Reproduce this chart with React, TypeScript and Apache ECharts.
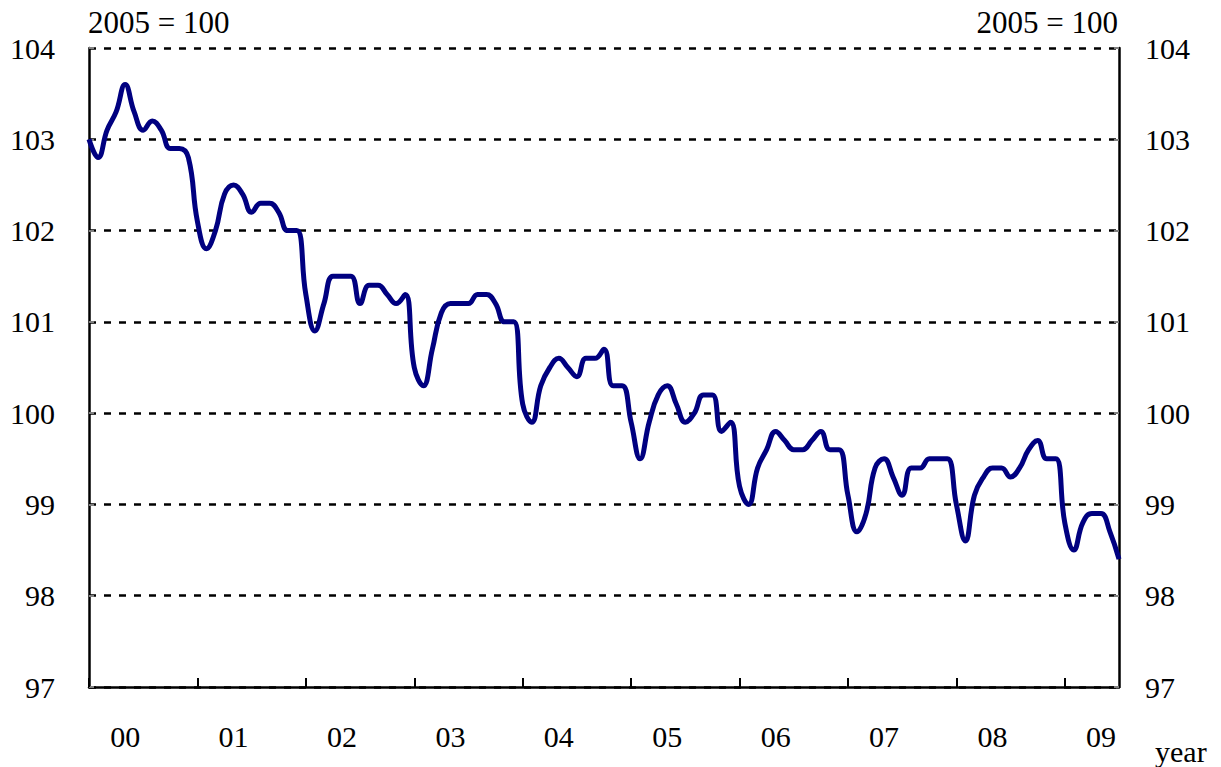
import React, { useEffect, useRef } from 'react';
import * as echarts from 'echarts';

const years = ['2000', '2001', '2002', '2003', '2004', '2005', '2006', '2007', '2008', '2009'];
const yearLabels = ['00', '01', '02', '03', '04', '05', '06', '07', '08', '09'];
const months = ['01', '02', '03', '04', '05', '06', '07', '08', '09', '10', '11', '12'];

// Monthly index values, Jan 2000 .. Jul 2009 (2005 = 100)
const values = [
  103.0, 102.8, 103.1, 103.3, 103.6, 103.3, 103.1, 103.2, 103.1, 102.9, 102.9, 102.8,
  102.1, 101.8, 102.0, 102.4, 102.5, 102.4, 102.2, 102.3, 102.3, 102.2, 102.0, 102.0,
  101.3, 100.9, 101.2, 101.5, 101.5, 101.5, 101.2, 101.4, 101.4, 101.3, 101.2, 101.3,
  100.5, 100.3, 100.7, 101.1, 101.2, 101.2, 101.2, 101.3, 101.3, 101.2, 101.0, 101.0,
  100.1, 99.9, 100.3, 100.5, 100.6, 100.5, 100.4, 100.6, 100.6, 100.7, 100.3, 100.3,
  99.9, 99.5, 99.9, 100.2, 100.3, 100.1, 99.9, 100.0, 100.2, 100.2, 99.8, 99.9,
  99.2, 99.0, 99.4, 99.6, 99.8, 99.7, 99.6, 99.6, 99.7, 99.8, 99.6, 99.6,
  99.1, 98.7, 98.9, 99.4, 99.5, 99.3, 99.1, 99.4, 99.4, 99.5, 99.5, 99.5,
  99.0, 98.6, 99.1, 99.3, 99.4, 99.4, 99.3, 99.4, 99.6, 99.7, 99.5, 99.5,
  98.8, 98.5, 98.8, 98.9, 98.9, 98.7, 98.4,
];

const yMin = 97;
const yMax = 104;
const yStep = 1;
const baseLabel = '2005 = 100';
const xUnitLabel = 'year';

const categories = years.flatMap((y) => months.map((m) => `${y}-${m}`)).slice(0, values.length);

const FONT = "'Liberation Serif', 'Times New Roman', serif";

export default function App() {
  const ref = useRef<HTMLDivElement>(null);

  useEffect(() => {
    if (!ref.current) return;
    const chart = echarts.init(ref.current, undefined, { renderer: 'svg' });
    const textStyle = { fontFamily: FONT, fontSize: 30, color: '#000' };
    chart.setOption({
      animation: false,
      backgroundColor: '#fff',
      grid: { left: 89, right: 102, top: 48, bottom: 80, containLabel: false },
      xAxis: {
        type: 'category',
        data: categories,
        boundaryGap: false,
        axisLine: { show: true, lineStyle: { color: '#000', width: 2.5 } },
        axisTick: {
          show: true,
          inside: true,
          length: 9,
          interval: (i: number) => i % 12 === 0,
          lineStyle: { color: '#000', width: 2 },
        },
        axisLabel: {
          ...textStyle,
          interval: (i: number) => i % 12 === 4,
          formatter: (_v: string, i: number) => yearLabels[Math.floor(i / 12)],
          margin: 34,
        },
        splitLine: { show: false },
      },
      yAxis: [
        {
          type: 'value',
          position: 'left',
          min: yMin,
          max: yMax,
          interval: yStep,
          axisLine: { show: true, lineStyle: { color: '#000', width: 2.5 } },
          axisTick: { show: true, inside: true, length: 5, lineStyle: { color: '#808080', width: 2 } },
          axisLabel: { ...textStyle, margin: 34 },
          splitLine: { show: true, lineStyle: { color: '#000', width: 2.5, type: [7, 8] } },
        },
        {
          type: 'value',
          position: 'right',
          min: yMin,
          max: yMax,
          interval: yStep,
          axisLine: { show: true, lineStyle: { color: '#000', width: 2.5 } },
          axisTick: { show: true, inside: true, length: 5, lineStyle: { color: '#808080', width: 2 } },
          axisLabel: { ...textStyle, margin: 26 },
          splitLine: { show: false },
        },
      ],
      series: [
        {
          type: 'line',
          data: values,
          yAxisIndex: 0,
          smooth: 0.45,
          symbol: 'none',
          lineStyle: { color: '#000080', width: 5 },
        },
      ],
      graphic: [
        {
          type: 'text',
          left: 88,
          top: 7,
          style: { text: baseLabel, font: `31px ${FONT}`, fill: '#000' },
        },
        {
          type: 'text',
          right: 1221 - 1118,
          top: 7,
          style: { text: baseLabel, font: `31px ${FONT}`, fill: '#000' },
        },
        {
          type: 'text',
          left: 1155,
          top: 736,
          style: { text: xUnitLabel, font: `30px ${FONT}`, fill: '#000' },
        },
      ],
    });
    return () => chart.dispose();
  }, []);

  return (
    <div
      ref={ref}
      style={{ position: 'fixed', left: 0, top: 0, width: 1221, height: 767, background: '#fff' }}
    />
  );
}
